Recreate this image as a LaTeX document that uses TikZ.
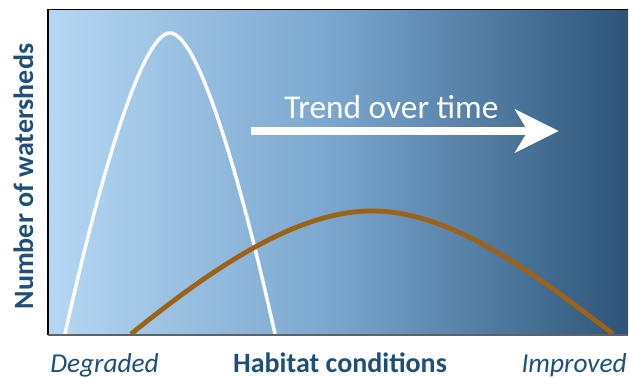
\documentclass[tikz,border=0pt]{standalone}
\usepackage{fontspec}
\setmainfont{Carlito}
\usetikzlibrary{arrows.meta}

\definecolor{navytext}{HTML}{1F4E79}
\definecolor{curvebrown}{HTML}{9C6215}
\definecolor{paleblue}{HTML}{B5D7F3}
\definecolor{midblue}{HTML}{79A5CD}
\definecolor{deepblue}{HTML}{2D5478}
\pgfdeclarehorizontalshading{habitatfade}{100bp}{color(0bp)=(paleblue); color(25bp)=(paleblue); color(50bp)=(midblue); color(75bp)=(deepblue); color(100bp)=(deepblue)}

\tikzset{
  axislabel/.style={text=navytext, inner sep=0pt, font=\fontsize{21}{25}\selectfont\bfseries},
  endlabel/.style={text=navytext, inner sep=0pt, font=\fontsize{20.5}{24}\selectfont\itshape},
  trendlabel/.style={text=white, inner sep=0pt, font=\fontsize{25}{30}\selectfont},
  oldcurve/.style={white, line width=2.6pt},
  newcurve/.style={curvebrown, line width=3.6pt},
  trendarrow/.style={white, line width=6.4pt, -{Stealth[length=33pt, width=33pt, inset=10pt, line width=0pt]}}
}

\begin{document}
\begin{tikzpicture}[x=0.75pt,y=0.75pt,yscale=-1,xscale=1]
\useasboundingbox (0,0) rectangle (629,378);

%Shape: Rectangle [plot area]
\path[shading=habitatfade] (48,9.5) rectangle (628,334.5);

%Curve: degraded watersheds
\draw[oldcurve] (65,334) .. controls (95,198) and (140,33) .. (170,33)
  .. controls (200,33) and (245,198) .. (275,334);
%Curve: improved watersheds
\draw[newcurve] (131,334) .. controls (220,262) and (300,211) .. (372,211)
  .. controls (450,211) and (530,270) .. (613,334);

%Straight Lines [frame]
\draw[line width=1pt, black] (48,334.5) -- (48,9.5) -- (628,9.5);
\draw[line width=1.5pt, black!62] (48,334.5) -- (628,334.5);

%Arrow [trend]
\coordinate (trendstart) at (250.5,131);
\coordinate (trendtip) at (558.5,131);
\draw[trendarrow] (trendstart) -- (trendtip);

% Text Node
\node[trendlabel, anchor=base west] (trend) at (284,118.3) {Trend over time};
% Text Node
\node[axislabel, rotate=90, anchor=base] (count) at (33,176.5) {Number of watersheds};
% Text Node
\node[endlabel, anchor=base west] (degraded) at (50,372.5) {Degraded};
% Text Node
\node[axislabel, anchor=base] (habitat) at (340,372.5) {Habitat conditions};
% Text Node
\node[endlabel, anchor=base east] (improved) at (627,372.5) {Improved};
\end{tikzpicture}
\end{document}
